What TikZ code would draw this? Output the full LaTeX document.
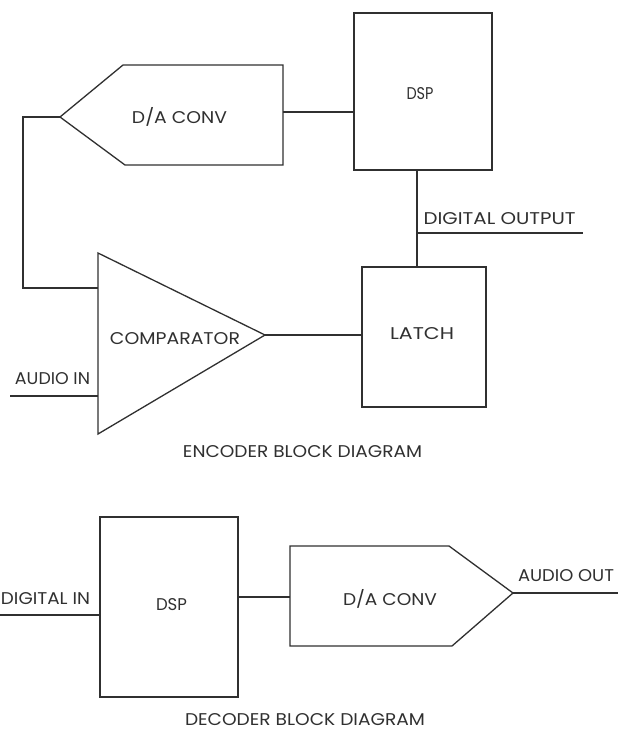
\documentclass[tikz,border=0pt]{standalone}
\usepackage{fontspec}
\setmainfont{Poppins}
\usepackage{graphicx}
\newcommand\fitlab[2]{\resizebox{#1}{\height}{#2}}
\definecolor{ink}{HTML}{303030}
\begin{document}
\begin{tikzpicture}[x=1pt,y=-1pt,line width=1.3pt,
  wire/.style={draw=ink,line width=1.3pt},
  blk/.style={draw=ink,line width=1.3pt,rectangle,inner sep=0pt},
  lab/.style={inner sep=0pt,text=ink,font=\fontsize{17}{17}\selectfont}]
\useasboundingbox (0,0) rectangle (618,731);
\fill[white] (0,0) rectangle (618,731);

% ---------- encoder ----------
\node[blk,minimum width=138pt,minimum height=157pt] (dspA) at (423,91.5) {};
\node[lab] at (420,93.5) {\fitlab{27pt}{DSP}};
\node[blk,minimum width=124pt,minimum height=140pt] (latch) at (424,337) {};
\node[lab] at (422,334) {\fitlab{64pt}{LATCH}};

% D/A converter (top)
\coordinate (daAtip) at (60,117);
\coordinate (daAtl) at (123,65);
\coordinate (daAtr) at (283,65);
\coordinate (daAbr) at (283,165);
\coordinate (daAbl) at (125,165);
\coordinate (daAout) at (283,112);
\draw[wire,line join=miter] (daAtip) -- (daAtl) -- (daAtr) -- (daAbr) -- (daAbl) -- cycle;
\node[lab] (daAtxt) at (179.5,116.5) {\fitlab{95pt}{D/A CONV}};

% comparator
\coordinate (cmpT) at (98,253);
\coordinate (cmpB) at (98,434);
\coordinate (cmpO) at (265,335);
\coordinate (cmpFb) at (98,288);
\coordinate (cmpIn) at (98,396);
\draw[wire,line join=miter] (cmpT) -- (cmpO) -- (cmpB) -- cycle;
\node[lab] (cmptxt) at (175,338.5) {\fitlab{130pt}{COMPARATOR}};

% free ends
\coordinate (fbx) at (23,117);
\coordinate (ain) at (10,396);
\coordinate (dout) at (583,233);
\coordinate (tapTop) at (417,170);
\coordinate (tapMid) at (417,233);

% connectors
\draw[wire] (daAout) -- (daAout -| dspA.west);
\draw[wire] (daAtip) -- (fbx) |- (cmpFb);
\draw[wire] (ain) -- (cmpIn);
\draw[wire] (cmpO) -- (cmpO -| latch.west);
\draw[wire] (tapTop |- dspA.south) -- (tapTop |- latch.north);
\draw[wire] (tapMid) -- (dout);

\node[lab,anchor=west] (douttxt) at (423,218.5) {\fitlab{152pt}{DIGITAL OUTPUT}};
\node[lab] (aintxt) at (52.5,378.5) {\fitlab{75pt}{AUDIO IN}};
\node[lab] (enc) at (302.5,452) {\fitlab{239pt}{ENCODER BLOCK DIAGRAM}};

% ---------- decoder ----------
\node[blk,minimum width=138pt,minimum height=180pt] (dspB) at (169,607) {};
\node[lab] at (171.5,605) {\fitlab{31pt}{DSP}};

\coordinate (daBin) at (290,597);
\coordinate (daBtl) at (290,546);
\coordinate (daBtr) at (449,546);
\coordinate (daBtip) at (513,593);
\coordinate (daBbr) at (452,646);
\coordinate (daBbl) at (290,646);
\draw[wire,line join=miter] (daBtl) -- (daBtr) -- (daBtip) -- (daBbr) -- (daBbl) -- cycle;
\node[lab] (daBtxt) at (390,598.5) {\fitlab{94pt}{D/A CONV}};

\coordinate (din) at (0,615);
\coordinate (aout) at (618,593);
\draw[wire] (din) -- (din -| dspB.west);
\draw[wire] (daBin -| dspB.east) -- (daBin);
\draw[wire] (daBtip) -- (aout);

\node[lab] (dintxt) at (45.5,598.5) {\fitlab{89pt}{DIGITAL IN}};
\node[lab] (aouttxt) at (566,576) {\fitlab{96pt}{AUDIO OUT}};
\node[lab] (dec) at (305,719.5) {\fitlab{240pt}{DECODER BLOCK DIAGRAM}};
\end{tikzpicture}
\end{document}
